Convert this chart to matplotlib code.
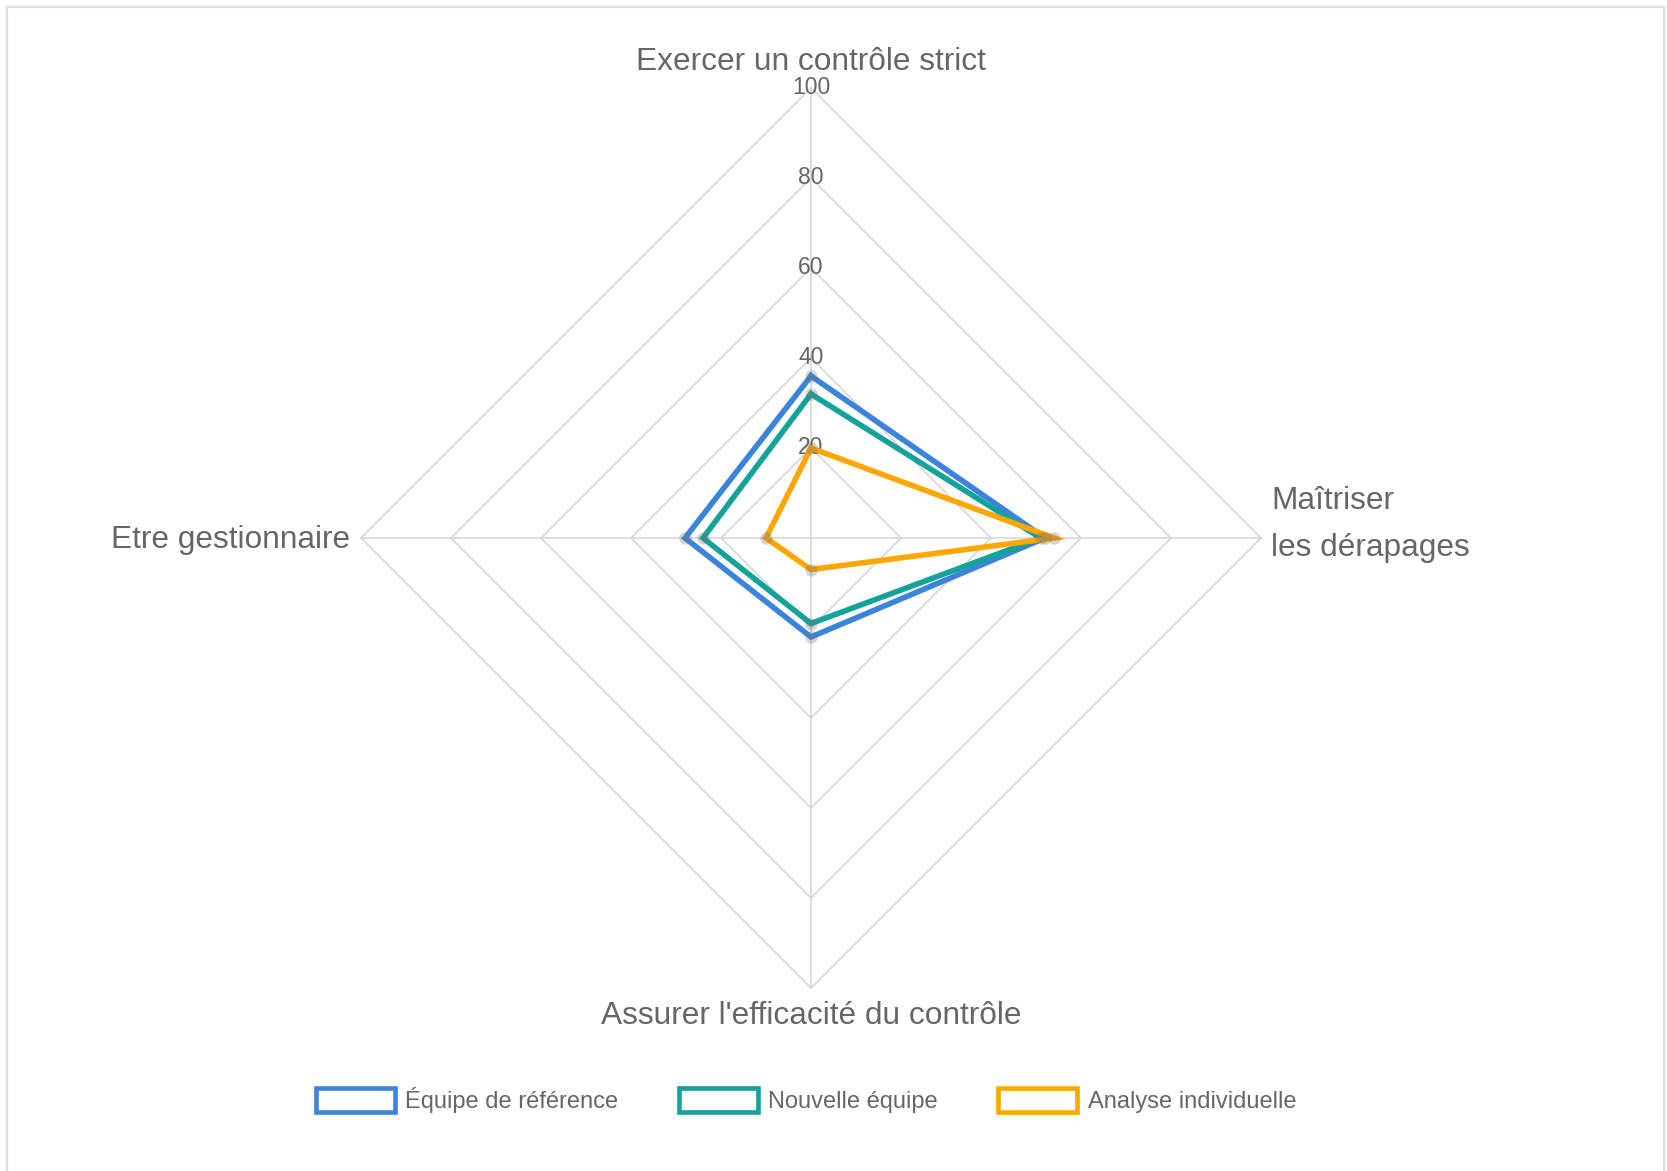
import numpy as np
import matplotlib
matplotlib.use("Agg")
import matplotlib.pyplot as plt
from matplotlib.patches import Rectangle
from matplotlib.lines import Line2D

categories = ["Exercer un contrôle strict", "Maîtriser\nles dérapages",
              "Assurer l'efficacité du contrôle", "Etre gestionnaire"]
series_names = ["Équipe de référence", "Nouvelle équipe", "Analyse individuelle"]
ref_values = [36, 52, 22, 28]
new_values = [32, 51, 19, 24]
ind_values = [20, 54, 7, 10]
series_colors = ["#3a84dc", "#13a39b", "#ffa600"]
rticks = [20, 40, 60, 80, 100]

plt.rcParams['font.family'] = ['Liberation Sans', 'DejaVu Sans']
TXT = "#666666"
GRID = "#d4d4d4"

W, H = 1667, 1171
fig = plt.figure(figsize=(W / 100, H / 100), dpi=100)

# frame (left, top, right)
fig.add_artist(Line2D([7 / W, 7 / W], [0, 1 - 7 / H], color="#dedede", lw=1.6, transform=fig.transFigure))
fig.add_artist(Line2D([7 / W, 1664 / W], [1 - 7 / H, 1 - 7 / H], color="#dedede", lw=1.6, transform=fig.transFigure))
fig.add_artist(Line2D([1664 / W, 1664 / W], [0, 1 - 7 / H], color="#dedede", lw=1.6, transform=fig.transFigure))

cx, cy, R = 811, 538, 450
ax = fig.add_axes([(cx - R) / W, (H - cy - R) / H, 2 * R / W, 2 * R / H], projection="polar")
ax.set_theta_zero_location("N")
ax.set_theta_direction(-1)
ax.set_ylim(0, 100)
ax.grid(False)
ax.spines["polar"].set_visible(False)
ax.set_xticks([])
ax.set_yticks([])
ax.patch.set_alpha(0)

n = len(categories)
angles = np.arange(n) * 2 * np.pi / n
closed = np.concatenate([angles, angles[:1]])

for r in rticks:
    ax.plot(closed, [r] * (n + 1), color=GRID, lw=1.1, zorder=1, clip_on=False)
for a in angles:
    ax.plot([a, a], [0, 100], color=GRID, lw=1.1, zorder=1, clip_on=False)
for r in rticks:
    ax.text(0, r, str(r), ha="center", va="center", fontsize=16.5, color=TXT, zorder=2)

for vals, col in zip([ref_values, new_values, ind_values], series_colors):
    v = list(vals) + [vals[0]]
    ax.plot(closed, v, color=col, lw=4.0, zorder=4, solid_joinstyle="miter", clip_on=False)
    ax.plot(angles, vals, ls="none", marker="o", ms=9, mfc=(0.45, 0.45, 0.45, 0.3),
            mec="none", zorder=5, clip_on=False)

fs = 22.8
ax.annotate(categories[0], xy=(0, 100), xytext=(0, 26), textcoords="offset pixels",
            ha="center", va="center", fontsize=fs, color=TXT, annotation_clip=False)
ax.annotate(categories[2], xy=(np.pi, 100), xytext=(0, -28), textcoords="offset pixels",
            ha="center", va="center", fontsize=fs, color=TXT, annotation_clip=False)
ax.annotate(categories[3], xy=(3 * np.pi / 2, 100), xytext=(-11, -2), textcoords="offset pixels",
            ha="right", va="center", fontsize=fs, color=TXT, annotation_clip=False)
l1, l2 = categories[1].split("\n")
ax.annotate(l1, xy=(np.pi / 2, 100), xytext=(10, 37), textcoords="offset pixels",
            ha="left", va="center", fontsize=fs, color=TXT, annotation_clip=False)
ax.annotate(l2, xy=(np.pi / 2, 100), xytext=(10, -10), textcoords="offset pixels",
            ha="left", va="center", fontsize=fs, color=TXT, annotation_clip=False)

handles = [Rectangle((0, 0), 1, 1, facecolor="white", edgecolor=c, lw=3.3) for c in series_colors]
leg = fig.legend(handles, series_names, loc="center", bbox_to_anchor=(806 / W, 1 - 1100 / H),
                 ncol=3, frameon=False, fontsize=17, handlelength=3.35, handleheight=1.15,
                 handletextpad=0.45, columnspacing=2.55, labelcolor=TXT)

fig.savefig("out.png", dpi=100, facecolor="white")
